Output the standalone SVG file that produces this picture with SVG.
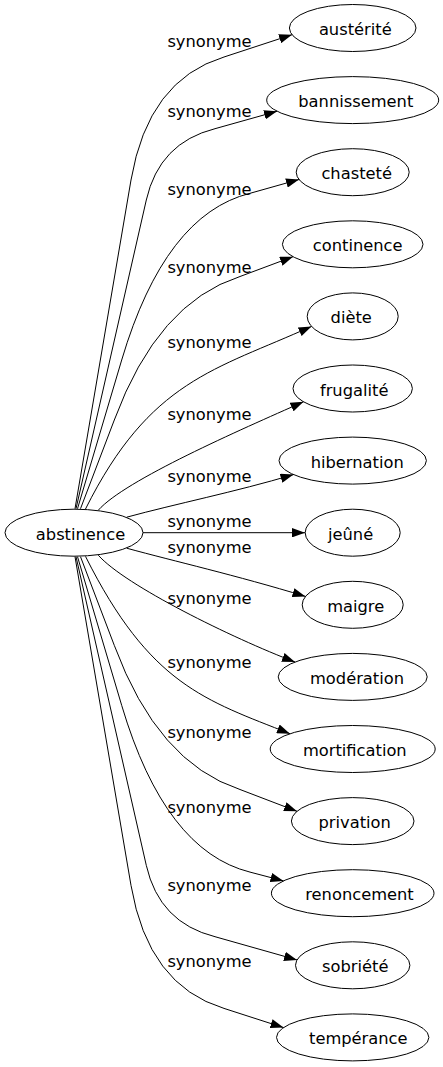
<svg xmlns="http://www.w3.org/2000/svg" width="443" height="1067" viewBox="0 0 443 1067">
<style>
text{font-family:"DejaVu Sans","Noto Sans",sans-serif;font-size:16.3px;fill:#000}
.n ellipse{fill:none;stroke:#000;stroke-width:1}
.n text{text-anchor:middle}
.e path{fill:none;stroke:#000;stroke-width:1;marker-end:url(#ah)}
.l text{text-anchor:middle}
</style>
<defs>
<marker id="ah" markerUnits="userSpaceOnUse" markerWidth="13" markerHeight="9.4" viewBox="0 0 13 9.4" refX="13" refY="4.7" orient="auto">
<path d="M0,0 L13,4.7 L0,9.4 z" fill="#000"/>
</marker>
</defs>
<rect width="443" height="1067" fill="#fff"/>
<g id="edges" class="e">
<path d="M75,508.7 L131,180 Q148,80 224,57 L292,34.7"/>
<path d="M76,508.7 L146.3,200 Q159.3,142.7 215,128.7 L277,111.3"/>
<path d="M77.5,508.7 L121.7,360 Q164.9,214.6 250,193.3 L299,179.5"/>
<path d="M80.5,508.7 L114.3,420 Q157.6,302.8 240,276.5 L293,256.7"/>
<path d="M85.5,509 C150,380 215,370 311.5,326.4"/>
<path d="M98.3,510.2 C125,480 240,430 303.5,401.8"/>
<path d="M126.7,517.2 C175,504 235,492 293.5,474.6"/>
<path d="M143,532.7 L305,532.7"/>
<path d="M126.7,548.2 C175,561.4 235,575 305.5,596.4"/>
<path d="M98.3,555.2 C125,585.4 232,638 295,662"/>
<path d="M85.5,556.4 C150,685 205,700 290,733.7"/>
<path d="M80.5,556.7 L114.3,645.4 Q157.6,762.6 240,789.5 L297,811.3"/>
<path d="M77.5,556.7 L121.7,705.4 Q164.9,850.8 250,872.1 L283.5,880.9"/>
<path d="M76,556.7 L146.3,865.4 Q159.3,922.7 215,936.7 L297,959.9"/>
<path d="M75,556.7 L131,885.4 Q148,985.4 224,1008.4 L283.5,1027.6"/>
</g>
<g id="labels" class="l">
<text x="209.5" y="46.5">synonyme</text>
<text x="209.5" y="117">synonyme</text>
<text x="209.5" y="195">synonyme</text>
<text x="209.5" y="273">synonyme</text>
<text x="209.5" y="348">synonyme</text>
<text x="209.5" y="420">synonyme</text>
<text x="209.5" y="482">synonyme</text>
<text x="209.5" y="527">synonyme</text>
<text x="209.5" y="553">synonyme</text>
<text x="209.5" y="604">synonyme</text>
<text x="209.5" y="668">synonyme</text>
<text x="209.5" y="738">synonyme</text>
<text x="209.5" y="813">synonyme</text>
<text x="209.5" y="890.7">synonyme</text>
<text x="209.5" y="967">synonyme</text>
</g>
<g id="abstinence" class="n"><ellipse cx="74" cy="532.7" rx="69" ry="23.5"/><text x="80.5" y="539.7">abstinence</text></g>
<g id="austerite" class="n"><ellipse cx="352.7" cy="28" rx="63.3" ry="23.5"/><text x="355.3" y="35">austérité</text></g>
<g id="bannissement" class="n"><ellipse cx="352.7" cy="100.1" rx="86" ry="23.5"/><text x="355.8" y="107.1">bannissement</text></g>
<g id="chastete" class="n"><ellipse cx="352.7" cy="172.2" rx="56.5" ry="23.5"/><text x="356.7" y="179.2">chasteté</text></g>
<g id="continence" class="n"><ellipse cx="352.7" cy="244.3" rx="70.3" ry="23.5"/><text x="357.7" y="251.3">continence</text></g>
<g id="diete" class="n"><ellipse cx="352.7" cy="316.4" rx="45.5" ry="23.5"/><text x="351.2" y="323.4">diète</text></g>
<g id="frugalite" class="n"><ellipse cx="352.7" cy="388.5" rx="59.7" ry="23.5"/><text x="354.2" y="395.5">frugalité</text></g>
<g id="hibernation" class="n"><ellipse cx="352.7" cy="460.6" rx="73.7" ry="23.5"/><text x="357.2" y="467.6">hibernation</text></g>
<g id="jeune" class="n"><ellipse cx="352.7" cy="532.7" rx="47.5" ry="23.5"/><text x="350.6" y="539.7">jeûné</text></g>
<g id="maigre" class="n"><ellipse cx="352.7" cy="604.8" rx="50.5" ry="23.5"/><text x="355.7" y="611.8">maigre</text></g>
<g id="moderation" class="n"><ellipse cx="352.7" cy="676.9" rx="74.5" ry="23.5"/><text x="357" y="683.9">modération</text></g>
<g id="mortification" class="n"><ellipse cx="352.7" cy="749" rx="82.5" ry="23.5"/><text x="354.8" y="756">mortification</text></g>
<g id="privation" class="n"><ellipse cx="352.7" cy="821.1" rx="61.3" ry="23.5"/><text x="354.7" y="828.1">privation</text></g>
<g id="renoncement" class="n"><ellipse cx="352.7" cy="893.2" rx="81.3" ry="23.5"/><text x="359.5" y="900.2">renoncement</text></g>
<g id="sobriete" class="n"><ellipse cx="352.7" cy="965.3" rx="57.2" ry="23.5"/><text x="355.2" y="972.3">sobriété</text></g>
<g id="temperance" class="n"><ellipse cx="352.7" cy="1037.4" rx="76.2" ry="23.5"/><text x="358.3" y="1044.4">tempérance</text></g>
</svg>
